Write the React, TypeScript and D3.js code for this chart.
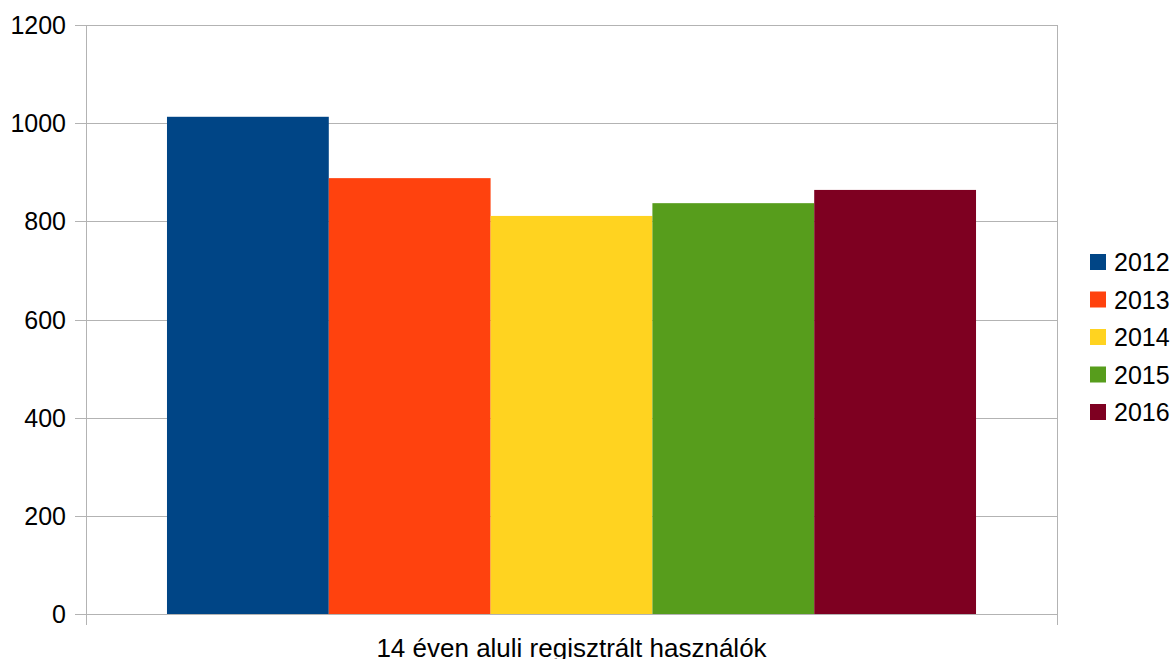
import React from "react";
import * as d3 from "d3";

const categories = ["14 éven aluli regisztrált használók"];
const years = ["2012", "2013", "2014", "2015", "2016"];
const values = [1013, 888, 811, 837, 864];
const colors = ["#004586", "#ff420e", "#ffd320", "#579d1c", "#7e0021"];
const yTicks = [0, 200, 400, 600, 800, 1000, 1200];

const W = 1173;
const H = 659;
const plot = { left: 86, right: 1057, top: 25, bottom: 614 };
const FONT = "'Liberation Sans', Arial, sans-serif";

export default function App() {
  const y = d3.scaleLinear().domain([0, 1200]).range([plot.bottom, plot.top]);
  const x0 = d3
    .scaleBand()
    .domain(categories)
    .range([plot.left, plot.right])
    .padding(0);
  const catX = x0(categories[0]) as number;
  const catW = x0.bandwidth();
  const gap = catW * 0.0834;
  const x1 = d3
    .scaleBand()
    .domain(years)
    .range([catX + gap, catX + catW - gap])
    .padding(0);

  const grid = "#b3b3b3";

  return (
    <svg
      width={W}
      height={H}
      style={{ position: "absolute", left: 0, top: 0, display: "block" }}
      fontFamily={FONT}
    >
      <rect x={0} y={0} width={W} height={H} fill="#fff" />
      {yTicks.map((t) => (
        <g key={t}>
          <line
            x1={plot.left - 11}
            x2={plot.right}
            y1={Math.round(y(t)) + 0.5}
            y2={Math.round(y(t)) + 0.5}
            stroke={grid}
            strokeWidth={1}
          />
          <text
            x={66}
            y={y(t)}
            textAnchor="end"
            dominantBaseline="central"
            fontSize={25}
            fill="#000"
          >
            {t}
          </text>
        </g>
      ))}
      <line
        x1={plot.left + 0.5}
        x2={plot.left + 0.5}
        y1={plot.top}
        y2={plot.bottom + 11}
        stroke={grid}
      />
      <line
        x1={plot.right + 0.5}
        x2={plot.right + 0.5}
        y1={plot.top}
        y2={plot.bottom + 11}
        stroke={grid}
      />
      {years.map((yr, i) => (
        <rect
          key={yr}
          x={x1(yr) as number}
          y={y(values[i])}
          width={x1.bandwidth()}
          height={y(0) - y(values[i])}
          fill={colors[i]}
        />
      ))}
      <line
        x1={plot.left}
        x2={plot.right}
        y1={Math.round(y(0)) + 0.5}
        y2={Math.round(y(0)) + 0.5}
        stroke={grid}
      />
      <text
        x={catX + catW / 2}
        y={657}
        textAnchor="middle"
        fontSize={26}
        fill="#000"
      >
        {categories[0]}
      </text>
      {years.map((yr, i) => {
        const cy = 262 + i * 37.5;
        return (
          <g key={"lg" + yr}>
            <rect x={1090} y={cy - 8} width={16} height={16} fill={colors[i]} />
            <text
              x={1114}
              y={cy}
              dominantBaseline="central"
              fontSize={25}
              fill="#000"
            >
              {yr}
            </text>
          </g>
        );
      })}
    </svg>
  );
}
